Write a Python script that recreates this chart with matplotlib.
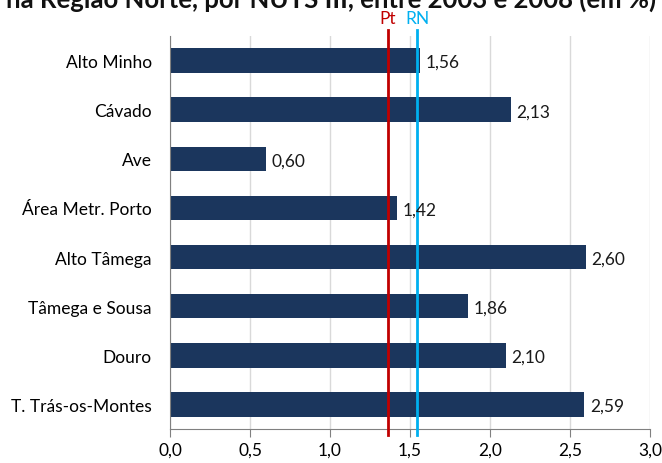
import matplotlib
matplotlib.use("Agg")
import matplotlib.pyplot as plt

plt.rcParams['font.family'] = ['Lato', 'DejaVu Sans']

# dados (taxa em %)
regioes = ["Alto Minho", "Cávado", "Ave", "Área Metr. Porto",
           "Alto Tâmega", "Tâmega e Sousa", "Douro", "T. Trás-os-Montes"]
valores = [1.56, 2.13, 0.60, 1.42, 2.60, 1.86, 2.10, 2.59]
ref_nomes = ["Pt", "RN"]
ref_valores = [1.36, 1.545]
ref_cores = ["#c00000", "#00b0f0"]
xticks = [0.0, 0.5, 1.0, 1.5, 2.0, 2.5, 3.0]

W, H = 662, 464
fig = plt.figure(figsize=(W / 100, H / 100), dpi=100)
ax = fig.add_axes([170 / W, 1 - 430 / H, 480 / W, 393 / H])

y = list(range(len(regioes)))
ax.barh(y, valores, height=0.5, color="#1b365d", zorder=2)
for yi, v in zip(y, valores):
    ax.text(v + 0.035, yi + 0.03, f"{v:.2f}".replace(".", ","), va="center", ha="left",
            fontsize=12.5, color="#1a1a1a", zorder=4)

ax.set_ylim(len(regioes) - 0.5, -0.5)
ax.set_xlim(0, 3.0)
ax.set_yticks(y)
ax.set_yticklabels(regioes, fontsize=12.5)
ax.set_xticks(xticks)
ax.set_xticklabels([f"{t:.1f}".replace(".", ",") for t in xticks], fontsize=12.5)
ax.tick_params(axis="y", length=0, pad=13)
ax.tick_params(axis="x", length=6, color="#808080", pad=3, direction="out")
ax.grid(axis="x", color="#d9d9d9", linewidth=1, zorder=0)
for s in ["top", "right"]:
    ax.spines[s].set_visible(False)
ax.spines["left"].set_color("#808080")
ax.spines["bottom"].set_color("#808080")

# linhas de referência
for nome, v, c in zip(ref_nomes, ref_valores, ref_cores):
    ax.plot([v, v], [-0.62, 7.62], color=c, linewidth=2, zorder=3, clip_on=False)
    ax.text(v, -0.7, nome, color=c, ha="center", va="bottom", fontsize=12.5)

fig.text(656 / W, 1 - 8 / H, "na Região Norte, por NUTS III, entre 2003 e 2008 (em %)",
         ha="right", va="baseline", fontsize=18.5, fontweight="bold", color="#111111")

fig.savefig("out.png", dpi=100)
